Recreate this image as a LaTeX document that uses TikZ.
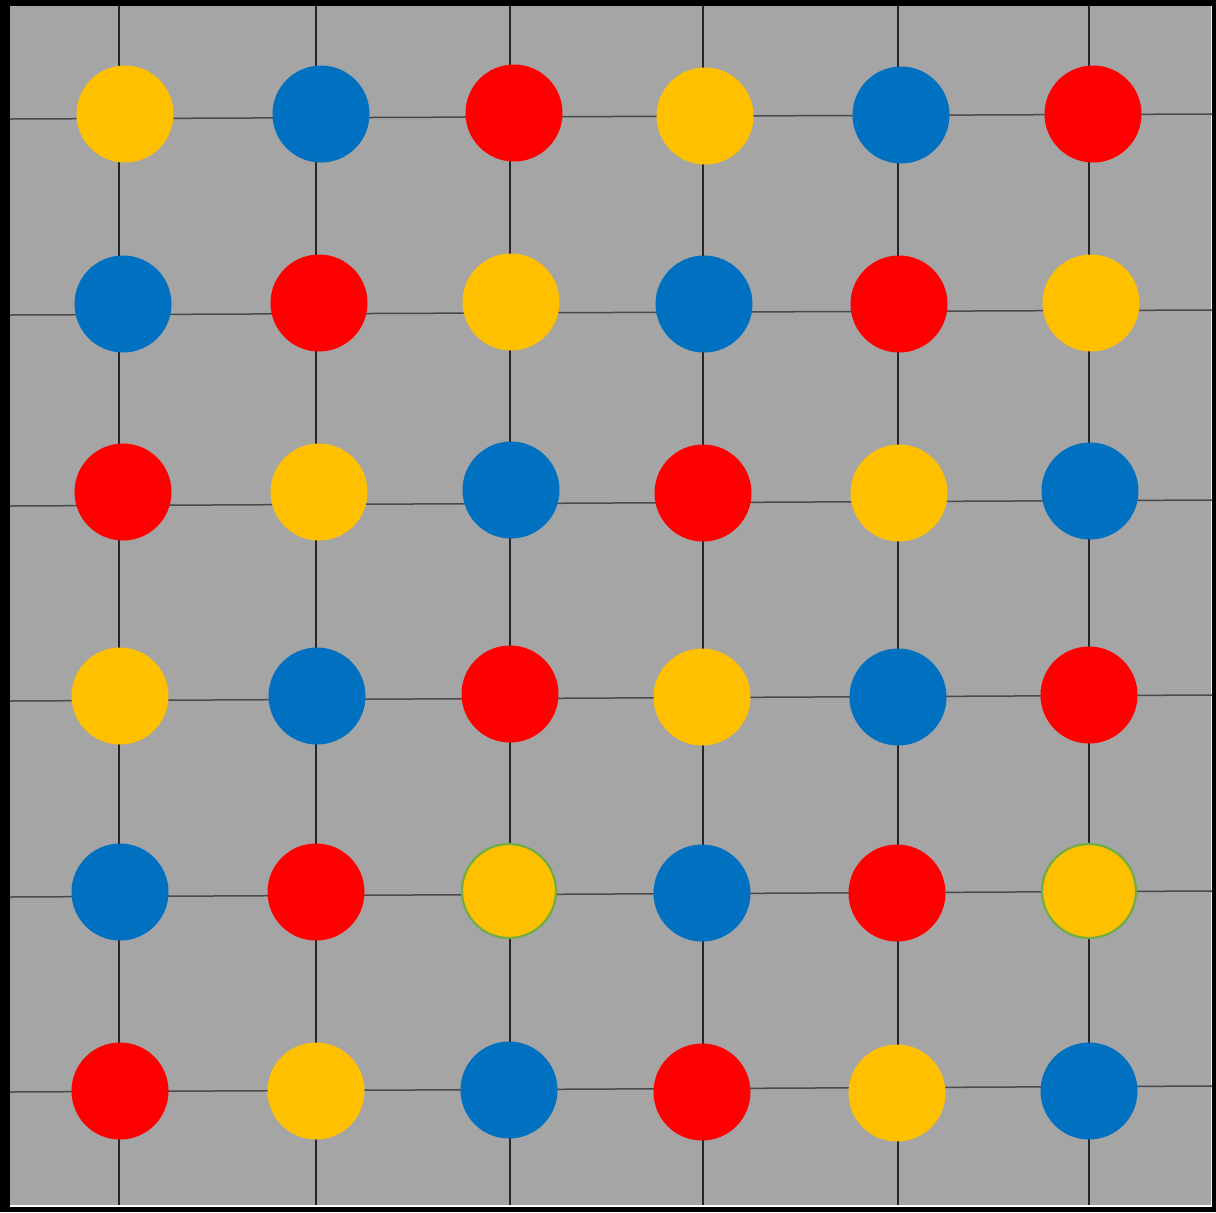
\documentclass[tikz,border=0pt]{standalone}
\definecolor{bggray}{HTML}{A5A5A5}
\definecolor{yel}{HTML}{FFC000}
\definecolor{blu}{HTML}{0070C0}
\definecolor{rd}{HTML}{FF0000}
\definecolor{grn}{HTML}{70AD47}
\definecolor{hline}{HTML}{4A4A4A}
\definecolor{vline}{HTML}{262626}
\begin{document}
\begin{tikzpicture}[x=0.5pt,y=-0.5pt,
  dot/.style={circle, inner sep=0pt, minimum size=48.5pt, draw=none},
  Y/.style={dot, fill=yel}, B/.style={dot, fill=blu}, R/.style={dot, fill=rd},
  YG/.style={dot, fill=yel, draw=grn, line width=1.1pt, minimum size=47pt},
  hl/.style={draw=hline, line width=0.75pt},
  vl/.style={draw=vline, line width=0.65pt}]
\useasboundingbox (0,0) rectangle (1216,1212);
% frame
\fill[black] (0,0) rectangle (1216,1212);
\fill[bggray] (10,6) rectangle (1212,1205);
\fill[white] (10,1205) rectangle (1212,1207);
\draw[white!85!bggray, line width=0.5pt] (1211.5,6) -- (1211.5,1205);
% line end coordinates
\coordinate (h1l) at (10,119);  \coordinate (h1r) at (1212,114);
\coordinate (h2l) at (10,315);  \coordinate (h2r) at (1212,310);
\coordinate (h3l) at (10,506);  \coordinate (h3r) at (1212,500);
\coordinate (h4l) at (10,701);  \coordinate (h4r) at (1212,695);
\coordinate (h5l) at (10,897);  \coordinate (h5r) at (1212,891);
\coordinate (h6l) at (10,1092); \coordinate (h6r) at (1212,1086);
\coordinate (v1t) at (119,6);  \coordinate (v1b) at (119,1205);
\coordinate (v2t) at (316,6);  \coordinate (v2b) at (316,1205);
\coordinate (v3t) at (510,6);  \coordinate (v3b) at (510,1205);
\coordinate (v4t) at (703,6);  \coordinate (v4b) at (703,1205);
\coordinate (v5t) at (898,6);  \coordinate (v5b) at (898,1205);
\coordinate (v6t) at (1089,6); \coordinate (v6b) at (1089,1205);
% grid lines
\foreach \i in {1,...,6} {
  \draw[hl] (h\i l) -- (h\i r);
  \draw[vl] (v\i t) -- (v\i b);
}
% row 1
\node[Y] (c11) at (125,114) {};
\node[B] (c12) at (321,114) {};
\node[R] (c13) at (514,113) {};
\node[Y] (c14) at (705,116) {};
\node[B] (c15) at (901,115) {};
\node[R] (c16) at (1093,114) {};
% row 2
\node[B] (c21) at (123,304) {};
\node[R] (c22) at (319,303) {};
\node[Y] (c23) at (511,302) {};
\node[B] (c24) at (704,304) {};
\node[R] (c25) at (899,304) {};
\node[Y] (c26) at (1091,303) {};
% row 3
\node[R] (c31) at (123,492) {};
\node[Y] (c32) at (319,492) {};
\node[B] (c33) at (511,490) {};
\node[R] (c34) at (703,493) {};
\node[Y] (c35) at (899,493) {};
\node[B] (c36) at (1090,491) {};
% row 4
\node[Y] (c41) at (120,696) {};
\node[B] (c42) at (317,696) {};
\node[R] (c43) at (510,694) {};
\node[Y] (c44) at (702,697) {};
\node[B] (c45) at (898,697) {};
\node[R] (c46) at (1089,695) {};
% row 5
\node[B] (c51) at (120,892) {};
\node[R] (c52) at (316,892) {};
\node[YG] (c53) at (509,891) {};
\node[B] (c54) at (702,893) {};
\node[R] (c55) at (897,893) {};
\node[YG] (c56) at (1089,891) {};
% row 6
\node[R] (c61) at (120,1091) {};
\node[Y] (c62) at (316,1091) {};
\node[B] (c63) at (509,1090) {};
\node[R] (c64) at (702,1092) {};
\node[Y] (c65) at (897,1093) {};
\node[B] (c66) at (1089,1091) {};
\end{tikzpicture}
\end{document}
